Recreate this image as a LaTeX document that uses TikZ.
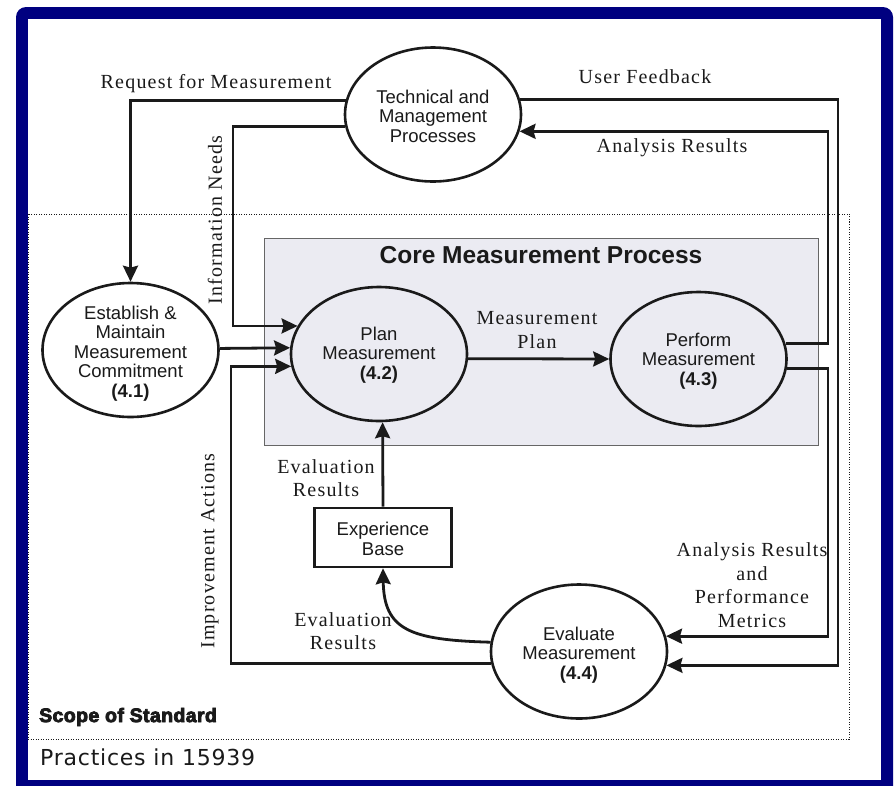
\documentclass[tikz,border=0pt]{standalone}
\usepackage{fontspec}
\setmainfont{Liberation Serif}
\newfontfamily\lsans{Liberation Sans}
\newfontfamily\heavy[FakeBold=4, LetterSpace=2]{Liberation Sans}
\newfontfamily\dejavu[LetterSpace=3.5]{DejaVu Sans}
\newfontfamily\labelfont[LetterSpace=6]{Liberation Serif}
\usetikzlibrary{shapes.geometric,arrows.meta,calc}
\definecolor{navy}{HTML}{000080}
\definecolor{corefill}{HTML}{EBEBF2}
\definecolor{ink}{HTML}{1A1A1A}
\tikzset{
  proc/.style={ellipse, draw=ink, line width=2.6pt, minimum width=176pt, minimum height=134pt, inner sep=0pt},
  ptext/.style={font=\lsans\fontsize{18.5}{19.5}\selectfont, align=center, inner sep=0pt, text=ink},
  lab/.style={font=\labelfont\fontsize{20}{23.5}\selectfont, align=center, inner sep=0pt, text=ink},
  conn/.style={line width=2.8pt, draw=ink},
  arr/.style={conn, -{Stealth[length=16pt,width=15pt,inset=2pt]}},
  boxnode/.style={draw=ink, line width=2.6pt, minimum width=137pt, minimum height=59pt, inner sep=0pt}
}
\begin{document}
\begin{tikzpicture}[x=1pt,y=-1pt]
\useasboundingbox (0,0) rectangle (894,785);
% frame
\fill[navy, rounded corners=10pt] (16,7) rectangle (893,800);
\fill[white] (28,19) rectangle (881,780);
% scope of standard
\draw[ink, line width=0.8pt, dash pattern=on 1pt off 1.5pt] (28,214) rectangle (849,739);
\node[font=\heavy\bfseries\fontsize{19.5}{21}\selectfont, anchor=west, inner sep=0pt, text=ink] (scope) at (39,717) {Scope of Standard};
\node[font=\dejavu\fontsize{22}{24}\selectfont, anchor=west, inner sep=0pt, text=ink] (prac) at (40,757) {Practices in 15939};
% core box
\node[draw=black!60, fill=corefill, line width=1pt, minimum width=554pt, minimum height=207pt, inner sep=0pt, anchor=north west] (core) at (264,238) {};
\node[font=\lsans\bfseries\fontsize{24.5}{27}\selectfont, inner sep=0pt, text=ink] (coretitle) at (541,255) {Core Measurement Process};
% processes
\node[proc] (tech) at (433,114.5) {};
\node[ptext] (techt) at (433,116) {Technical and\\Management\\Processes};
\node[proc] (est) at (130.5,350) {};
\node[ptext] (estt) at (130.5,353.5) {Establish \&\\Maintain\\Measurement\\Commitment\\\textbf{(4.1)}};
\node[proc] (plan) at (379,354) {};
\node[ptext] (plant) at (379,355) {Plan\\Measurement\\\textbf{(4.2)}};
\node[proc] (perf) at (698.5,359) {};
\node[ptext] (perft) at (698.5,361) {Perform\\Measurement\\\textbf{(4.3)}};
\node[proc] (eval) at (579,651.5) {};
\node[ptext] (evalt) at (579,655) {Evaluate\\Measurement\\\textbf{(4.4)}};
\node[boxnode, fill=white] (exp) at (383,537.5) {};
\node[ptext] (expt) at (383,539) {Experience\\Base};
% bend columns
\coordinate (cL1) at (233,0);
\coordinate (cL2) at (231,0);
\coordinate (cR1) at (828,0);
\coordinate (cR2) at (838,0);
% connectors
\draw[arr] (tech.171.8) -| (est.north);
\draw[arr] (tech.188.9) -| (cL1 |- plan.161.5) -- (plan.161.5);
\draw[arr] (est.1.3) -- (plan.176.1);
\draw[arr] (eval.188.9) -| (cL2 |- plan.188.6) -- (plan.188.6);
\draw[arr] (plan.357.4) -- (perf.180.6);
\draw[arr] (perf.10.55) -| (cR1 |- tech.349.7) -- (tech.349.7);
\draw[arr] (tech.10.3) -| (cR2 |- eval.351.1) -- (eval.351.1);
\draw[arr] (perf.354.1) -| (cR1 |- eval.10.3) -- (eval.10.3);
\draw[arr] (exp.north) -- (plan.273.4);
\draw[arr] (eval.174.4) .. controls (410,640) and (384,630) .. (exp.south);
% labels
\node[lab] (lreq) at (216,84) {Request for Measurement};
\node[lab, rotate=90] (linfo) at (215,220) {Information Needs};
\node[lab, rotate=90] (limp) at (210,551) {Improvement Actions};
\node[lab] (lmp) at (537,330) {Measurement\\Plan};
\node[lab] (luf) at (645,77) {User Feedback};
\node[lab] (lar) at (672,148) {Analysis Results};
\node[lab] (ler1) at (326,478) {Evaluation\\Results};
\node[lab] (ler2) at (343,631) {Evaluation\\Results};
\node[lab] (larp) at (752,585) {Analysis Results\\and\\Performance\\Metrics};
\end{tikzpicture}
\end{document}
